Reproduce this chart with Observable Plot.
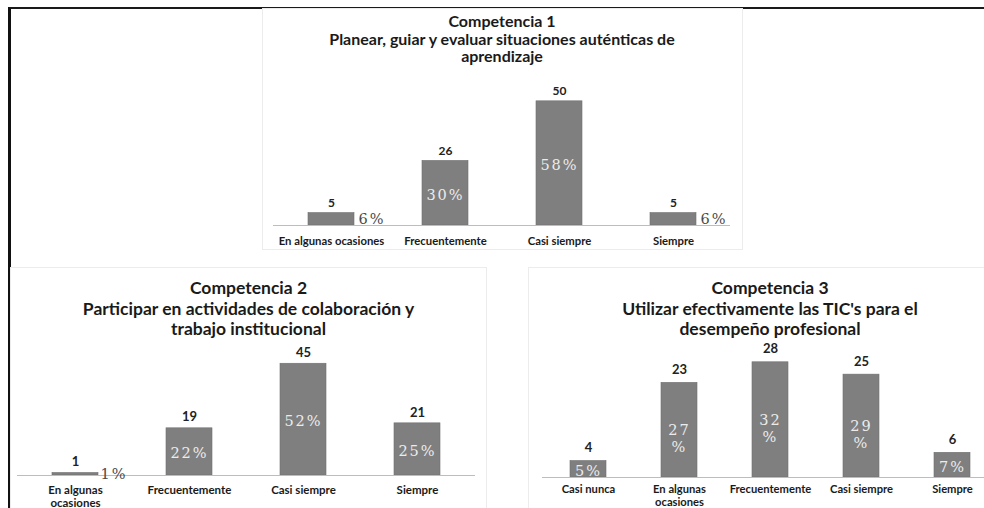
<!DOCTYPE html>
<html>
<head>
<meta charset="utf-8">
<script src="https://cdn.jsdelivr.net/npm/d3@7"></script>
<script src="https://cdn.jsdelivr.net/npm/@observablehq/plot@0.6"></script>
<style>
  html, body { margin: 0; padding: 0; background: #fff; }
  body { width: 984px; height: 508px; overflow: hidden; position: relative; font-family: Lato, "Open Sans", sans-serif; }
  .abs { position: absolute; }
  .frame { left: 8px; top: 7px; width: 1000px; height: 520px; border-top: 2px solid #1a1a1a; border-left: 3px solid #111; box-sizing: border-box; }
  .panel { border: 1px solid #ececec; box-sizing: border-box; }
  .title { text-align: center; font-weight: bold; color: #1a1a1a; white-space: nowrap; }
  .chart svg { max-width: none !important; background: transparent !important; overflow: visible; }
  g[font-family="DejaVu Serif"] { letter-spacing: 2px; }
</style>
</head>
<body>
<div class="abs frame"></div>
<div class="abs panel" style="left:262px;top:8px;width:481px;height:242px;"></div>
<div class="abs panel" style="left:10px;top:267px;width:477px;height:250px;"></div>
<div class="abs panel" style="left:528px;top:267px;width:500px;height:250px;"></div>
<div id="c1" class="abs chart" style="left:262px;top:8px;"></div>
<div id="c2" class="abs chart" style="left:10px;top:267px;"></div>
<div id="c3" class="abs chart" style="left:528px;top:267px;"></div>
<div class="abs title" style="left:262px;top:12px;width:480px;font-size:16px;line-height:17.5px;">Competencia 1<br>Planear, guiar y evaluar situaciones auténticas de<br>aprendizaje</div>
<div class="abs title" style="left:10px;top:278px;width:477px;font-size:17.5px;line-height:20.5px;">Competencia 2<br>Participar en actividades de colaboración y<br>trabajo institucional</div>
<div class="abs title" style="left:528px;top:278px;width:484px;font-size:17.5px;line-height:20.5px;">Competencia 3<br>Utilizar efectivamente las TIC's para el<br>desempeño profesional</div>
<script>
// ---- Data ----
const cats1 = ["En algunas ocasiones", "Frecuentemente", "Casi siempre", "Siempre"];
const counts1 = [5, 26, 50, 5];
const pct1 = ["6%", "30%", "58%", "6%"];

const cats2 = ["En algunas ocasiones", "Frecuentemente", "Casi siempre", "Siempre"];
const counts2 = [1, 19, 45, 21];
const pct2 = ["1%", "22%", "52%", "25%"];

const cats3 = ["Casi nunca", "En algunas ocasiones", "Frecuentemente", "Casi siempre", "Siempre"];
const counts3 = [4, 23, 28, 25, 6];
const pct3 = ["5%", "27\n%", "32\n%", "29\n%", "7%"];

function makeChart(o) {
  const data = o.cats.map((c, i) => ({cat: c, count: o.counts[i], pct: o.pct[i]}));
  const plotH = o.height - o.marginTop - o.marginBottom;
  const pxPerUnit = plotH / o.yMax;
  const inside = data.filter(d => d.count * pxPerUnit >= 14);
  const insideOne = inside.filter(d => !d.pct.includes("\n"));
  const insideTwo = inside.filter(d => d.pct.includes("\n"));
  const outside = data.filter(d => d.count * pxPerUnit < 14);
  const p = 0.6;
  const xOpts = {domain: o.cats, paddingInner: p, paddingOuter: p / 2, axis: null};
  if (o.xRange) xOpts.range = o.xRange;
  const pctStyle = {fontFamily: "DejaVu Serif", fontSize: 14.5, fill: "#ececec", lineHeight: 1.15};
  return Plot.plot({
    width: o.width,
    height: o.height,
    marginTop: o.marginTop,
    marginBottom: o.marginBottom,
    marginLeft: o.marginLeft,
    marginRight: o.marginRight,
    style: {fontFamily: "Lato, sans-serif", background: "transparent", overflow: "visible"},
    x: xOpts,
    y: {domain: [0, o.yMax], axis: null},
    marks: [
      Plot.barY(data, {x: "cat", y: "count", fill: "#7f7f7f", stroke: "#6f6f6f", strokeWidth: 0.6}),
      Plot.ruleY([0], {stroke: "#bdbdbd", strokeWidth: 1.2}),
      Plot.axisX({
        tickSize: 0,
        tickPadding: o.tickPadding,
        fontSize: o.catSize,
        fontWeight: "bold",
        fill: "#1a1a1a",
        lineHeight: 1.12,
        label: null,
        tickFormat: d => o.wrap ? d.replace(" ocasiones", "\nocasiones") : d
      }),
      Plot.text(data, {x: "cat", y: "count", text: d => String(d.count), dy: o.valDy,
        fontSize: o.valSize, fontWeight: "bold", fill: "#222"}),
      Plot.text(insideOne, {x: "cat", y: d => d.count / 2, text: "pct", dy: 1, ...pctStyle}),
      Plot.text(insideTwo, {x: "cat", y: d => d.count / 2, text: "pct", dy: o.pctDy, ...pctStyle}),
      Plot.text(outside, {x: "cat", y: d => d.count / 2, text: "pct", textAnchor: "start", dx: o.outDx,
        fontFamily: "DejaVu Serif", fontSize: 14.5, fill: "#4a4a4a"})
    ]
  });
}

document.getElementById("c1").append(makeChart({
  cats: cats1, counts: counts1, pct: pct1,
  width: 480, height: 237, marginTop: 68, marginBottom: 20, marginLeft: 11, marginRight: 12,
  yMax: 60, tickPadding: 10, catSize: 11.3, valSize: 12, valDy: -10, pctDy: 0, outDx: 27, wrap: false
}));
document.getElementById("c2").append(makeChart({
  cats: cats2, counts: counts2, pct: pct2,
  width: 477, height: 241, marginTop: 59, marginBottom: 33, marginLeft: 7, marginRight: 12,
  yMax: 60, tickPadding: 9, catSize: 11.5, valSize: 13, valDy: -11, pctDy: 0, outDx: 25, wrap: true
}));
document.getElementById("c3").append(makeChart({
  cats: cats3, counts: counts3, pct: pct3,
  width: 456, height: 241, marginTop: 66, marginBottom: 31, marginLeft: 14, marginRight: 0,
  xRange: [14.5, 469.5],
  yMax: 35, tickPadding: 7, catSize: 11.2, valSize: 13, valDy: -13, pctDy: 8, outDx: 22, wrap: true
}));
</script>
</body>
</html>
